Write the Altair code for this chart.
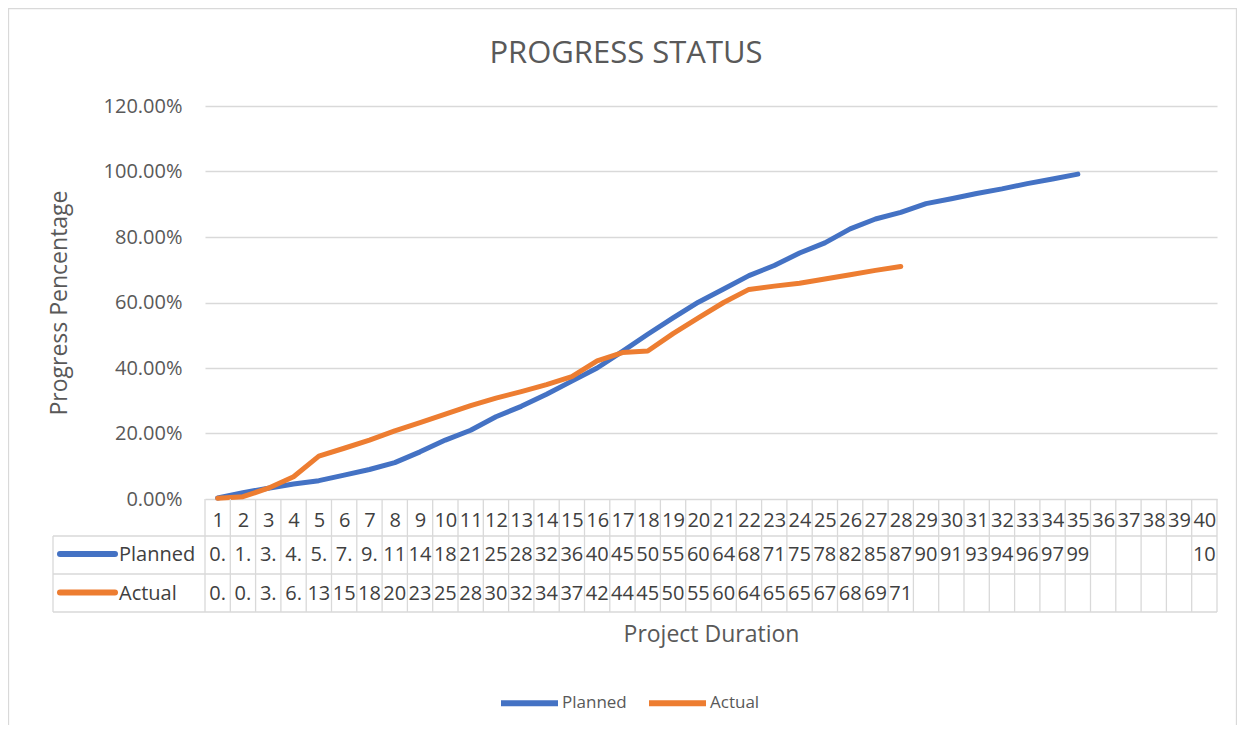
import altair as alt
import pandas as pd

# ---------------- data ----------------
days = list(range(1, 41))
series_names = ["Planned", "Actual"]
series_colors = ["#4472C4", "#ED7D31"]
planned_pct = [0.3, 1.9, 3.3, 4.6, 5.6, 7.3, 9.0, 11.1, 14.4, 18.0,
               21.0, 25.1, 28.3, 32.0, 36.0, 40.0, 45.1, 50.3, 55.3, 60.1,
               64.1, 68.2, 71.3, 75.1, 78.2, 82.5, 85.5, 87.5, 90.2, 91.7,
               93.3, 94.7, 96.3, 97.7, 99.2, None, None, None, None, 100.0]
actual_pct = [0.2, 0.7, 3.3, 6.8, 13.1, 15.5, 18.0, 20.8, 23.3, 25.9,
              28.5, 30.8, 32.8, 34.9, 37.4, 42.2, 44.7, 45.2, 50.5, 55.3,
              60.0, 64.0, 65.0, 65.9, 67.2, 68.5, 69.8, 71.0,
              None, None, None, None, None, None, None, None, None, None, None, None]
y_ticks = [0, 0.2, 0.4, 0.6, 0.8, 1.0, 1.2]
chart_title = "PROGRESS STATUS"
x_title = "Project Duration"
y_title = "Progress Pencentage"

rows = []
for name, vals in zip(series_names, [planned_pct, actual_pct]):
    for d, v in zip(days, vals):
        rows.append({
            "day": d,
            "series": name,
            "value": None if v is None else v / 100.0,
            # Excel's data table clips each "xx.xx%" to the cell width
            "label": "" if v is None else f"{v:.2f}%"[:2],
        })
df = pd.DataFrame(rows)
edges_df = pd.DataFrame({"day": [d - 0.5 for d in days] + [days[-1] + 0.5]})
names_df = pd.DataFrame({"series": series_names})
one = pd.DataFrame({"k": [0]})

# ---------------- style ----------------
W, H = 1012, 393
TXT = "#595959"
TBL = "#404040"
GRID = "#d9d9d9"
FONT = "Open Sans"
ROW_Y = [449, 487.5]
TABLE_BOTTOM = H + 113

x_scale = alt.Scale(domain=[0.5, 40.5], nice=False, zero=False)
y_scale = alt.Scale(domain=[0, 1.2], nice=False, zero=False)
color_scale = alt.Scale(domain=series_names, range=series_colors)

x_axis = alt.Axis(
    values=days, format="d", title=x_title, grid=False, domain=False,
    ticks=False, labelPadding=11, labelFontSize=20, labelColor=TBL, labelFont=FONT,
    labelOverlap=False, labelFlush=False, labelBound=False,
    titleFontSize=23, titleColor=TXT, titleFont=FONT, titleFontWeight="normal",
    titleBaseline="alphabetic", titleY=142, titleX=W / 2)


def xenc():
    return alt.X("day:Q", scale=x_scale, axis=x_axis)


def hrule(y, x0, x1):
    return alt.Chart(one).mark_rule(color=GRID, strokeWidth=1.3).encode(
        x=alt.value(x0), x2=alt.value(x1), y=alt.value(y))


lines = alt.Chart(df).transform_window(
    prev="lag(value)", nxt="lead(value)", groupby=["series"], sort=[alt.SortField("day")]
).transform_filter(
    # Excel does not draw a lone point between gaps
    "datum.value == null || datum.prev != null || datum.nxt != null"
).mark_line(
    strokeWidth=5, strokeCap="round", strokeJoin="round",
    invalid="break-paths-show-domains",
).encode(
    x=xenc(),
    y=alt.Y("value:Q", scale=y_scale, axis=alt.Axis(
        values=y_ticks, format=".2%", title=y_title, domain=False,
        ticks=False, labelPadding=23, labelFontSize=20, labelColor=TXT, labelFont=FONT,
        gridColor=GRID, gridWidth=1.3,
        titleFontSize=23, titleColor=TXT, titleFont=FONT, titleFontWeight="normal",
        titleAngle=270, titleX=-145.5, titleY=H / 2, titleBaseline="middle",
        titleAlign="center")),
    color=alt.Color("series:N", scale=color_scale, legend=alt.Legend(
        title=None, orient="none", legendX=293, legendY=565.5, direction="horizontal",
        symbolType="stroke", symbolSize=3249, symbolStrokeWidth=6,
        labelFontSize=17, labelFont=FONT, labelColor=TXT,
        columnPadding=10, labelOffset=1, padding=0)),
    order=alt.Order("day:Q"),
)

frame = alt.Chart(one).mark_rect(fillOpacity=0, stroke=GRID, strokeWidth=1.3).encode(
    x=alt.value(-196.5), x2=alt.value(W + 19.5), y=alt.value(-97.5), y2=alt.value(H + 260))

title_text = alt.Chart(one).mark_text(
    text=chart_title, fontSize=31, font=FONT, color=TXT, align="center", baseline="alphabetic"
).encode(x=alt.value(421), y=alt.value(-42.7))

vlines = alt.Chart(edges_df).mark_rule(color=GRID, strokeWidth=1.3).encode(
    x=xenc(), y=alt.value(H), y2=alt.value(TABLE_BOTTOM))

left_vline = alt.Chart(one).mark_rule(color=GRID, strokeWidth=1.3).encode(
    x=alt.value(-152), y=alt.value(430), y2=alt.value(TABLE_BOTTOM))

hlines = [hrule(430, -152, W), hrule(468, -152, W), hrule(TABLE_BOTTOM, -152, W)]

table_layers = []
for i, name in enumerate(series_names):
    table_layers.append(
        alt.Chart(df).transform_filter(alt.datum.series == name)
        .mark_text(fontSize=20, font=FONT, color=TBL, baseline="middle", align="center")
        .encode(x=xenc(), y=alt.value(ROW_Y[i]), text="label:N")
    )
    table_layers.append(
        alt.Chart(names_df).transform_filter(alt.datum.series == name)
        .mark_text(fontSize=20, font=FONT, color=TBL, baseline="middle", align="left")
        .encode(x=alt.value(-86), y=alt.value(ROW_Y[i]), text="series:N")
    )
    table_layers.append(
        alt.Chart(names_df).transform_filter(alt.datum.series == name)
        .mark_rule(strokeWidth=6, strokeCap="round", color=series_colors[i])
        .encode(x=alt.value(-145), x2=alt.value(-90), y=alt.value(ROW_Y[i] - 1))
    )

chart = alt.layer(lines, frame, title_text, vlines, left_vline, *hlines, *table_layers).properties(
    width=W, height=H,
    padding={"left": 197, "top": 98, "right": 20, "bottom": 226},
    autosize=alt.AutoSizeParams(type="none"),
    background="white",
).configure_view(strokeWidth=0)

chart.save("out.html", embed_options={"renderer": "svg", "actions": False})
